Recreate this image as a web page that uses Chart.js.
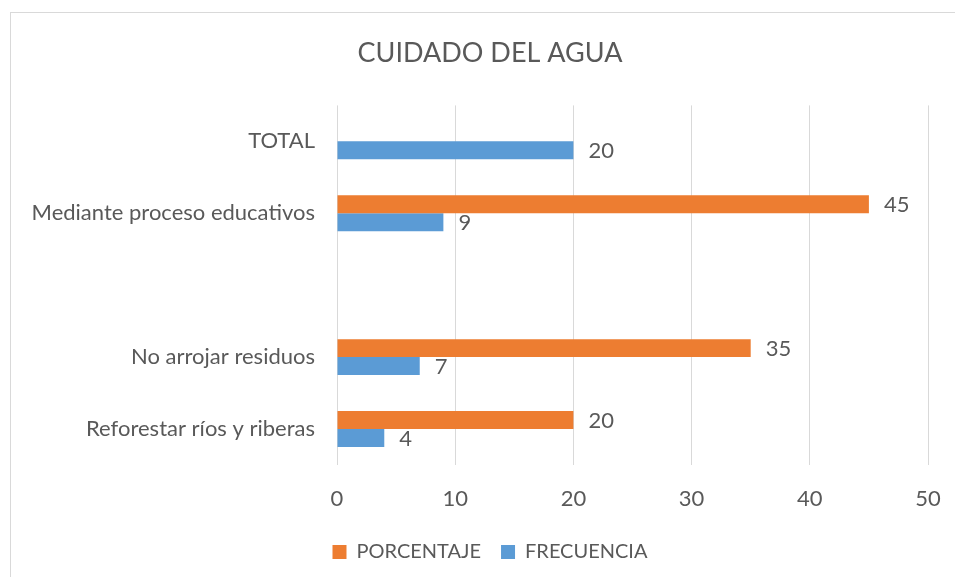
<!DOCTYPE html>
<html>
<head>
<meta charset="utf-8">
<script src="https://cdn.jsdelivr.net/npm/chart.js@4/dist/chart.umd.min.js"></script>
<style>
  html, body { margin: 0; padding: 0; background: #fff; overflow: hidden; }
  #marco {
    position: absolute; left: 10px; top: 12px;
    width: 958px; height: 578px;
    border: 1px solid #d9d9d9;
  }
</style>
</head>
<body>
<div id="marco"><canvas id="grafico" width="958" height="578"></canvas></div>
<script>
// ===== datos del gráfico =====
const categorias = ['TOTAL', 'Mediante proceso educativos', '', 'No arrojar residuos', 'Reforestar ríos y riberas'];
const porcentaje = [null, 45, null, 35, 20];
const frecuencia = [20, 9, null, 7, 4];
const ticksX = [0, 10, 20, 30, 40, 50];

const gris = '#595959';
const fuente = 'Lato';

// etiquetas de valor al final de cada barra
const etiquetasValor = {
    id: 'etiquetasValor',
    afterDatasetsDraw(chart) {
        const ctx = chart.ctx;
        ctx.save();
        ctx.font = '22px ' + fuente;
        ctx.fillStyle = gris;
        ctx.textBaseline = 'middle';
        chart.data.datasets.forEach((ds, i) => {
            const meta = chart.getDatasetMeta(i);
            meta.data.forEach((bar, j) => {
                const v = ds.data[j];
                if (v === null || v === undefined) return;
                ctx.fillText(String(v), bar.x + 15, bar.y + 1);
            });
        });
        ctx.restore();
    }
};

new Chart(document.getElementById('grafico'), {
    type: 'bar',
    data: {
        labels: categorias,
        datasets: [
            { label: 'PORCENTAJE', data: porcentaje, backgroundColor: '#ED7D31' },
            { label: 'FRECUENCIA', data: frecuencia, backgroundColor: '#5B9BD5' }
        ]
    },
    options: {
        indexAxis: 'y',
        responsive: false,
        animation: false,
        categoryPercentage: 0.5,
        barPercentage: 1.0,
        layout: { padding: { left: 11, right: 11, top: 0, bottom: 19 } },
        scales: {
            x: {
                min: 0, max: 50,
                afterBuildTicks: s => { s.ticks = ticksX.map(v => ({ value: v })); },
                afterFit: s => { s.height = 57; },
                grid: { color: '#d9d9d9', drawTicks: false },
                border: { display: false },
                ticks: { color: gris, font: { family: fuente, size: 22 }, padding: 21 }
            },
            y: {
                afterFit: s => { s.width = 315; },
                grid: { display: false },
                border: { display: false },
                ticks: { color: gris, font: { family: fuente, size: 22 }, padding: 14 }
            },
            // eje vacío a la derecha, solo deja el margen del área de trazado
            margenDer: {
                type: 'category',
                position: 'right',
                afterFit: s => { s.width = 30; },
                grid: { display: false },
                border: { display: false },
                ticks: { display: false }
            }
        },
        plugins: {
            title: {
                display: true,
                text: 'CUIDADO DEL AGUA',
                color: gris,
                font: { family: fuente, size: 27, weight: 'normal' },
                padding: { top: 24, bottom: 36 }
            },
            legend: {
                position: 'bottom',
                labels: {
                    color: gris,
                    font: { family: fuente, size: 20 },
                    boxWidth: 14, boxHeight: 14,
                    padding: 20
                }
            },
            tooltip: { enabled: false }
        }
    },
    plugins: [etiquetasValor]
});
</script>
</body>
</html>
